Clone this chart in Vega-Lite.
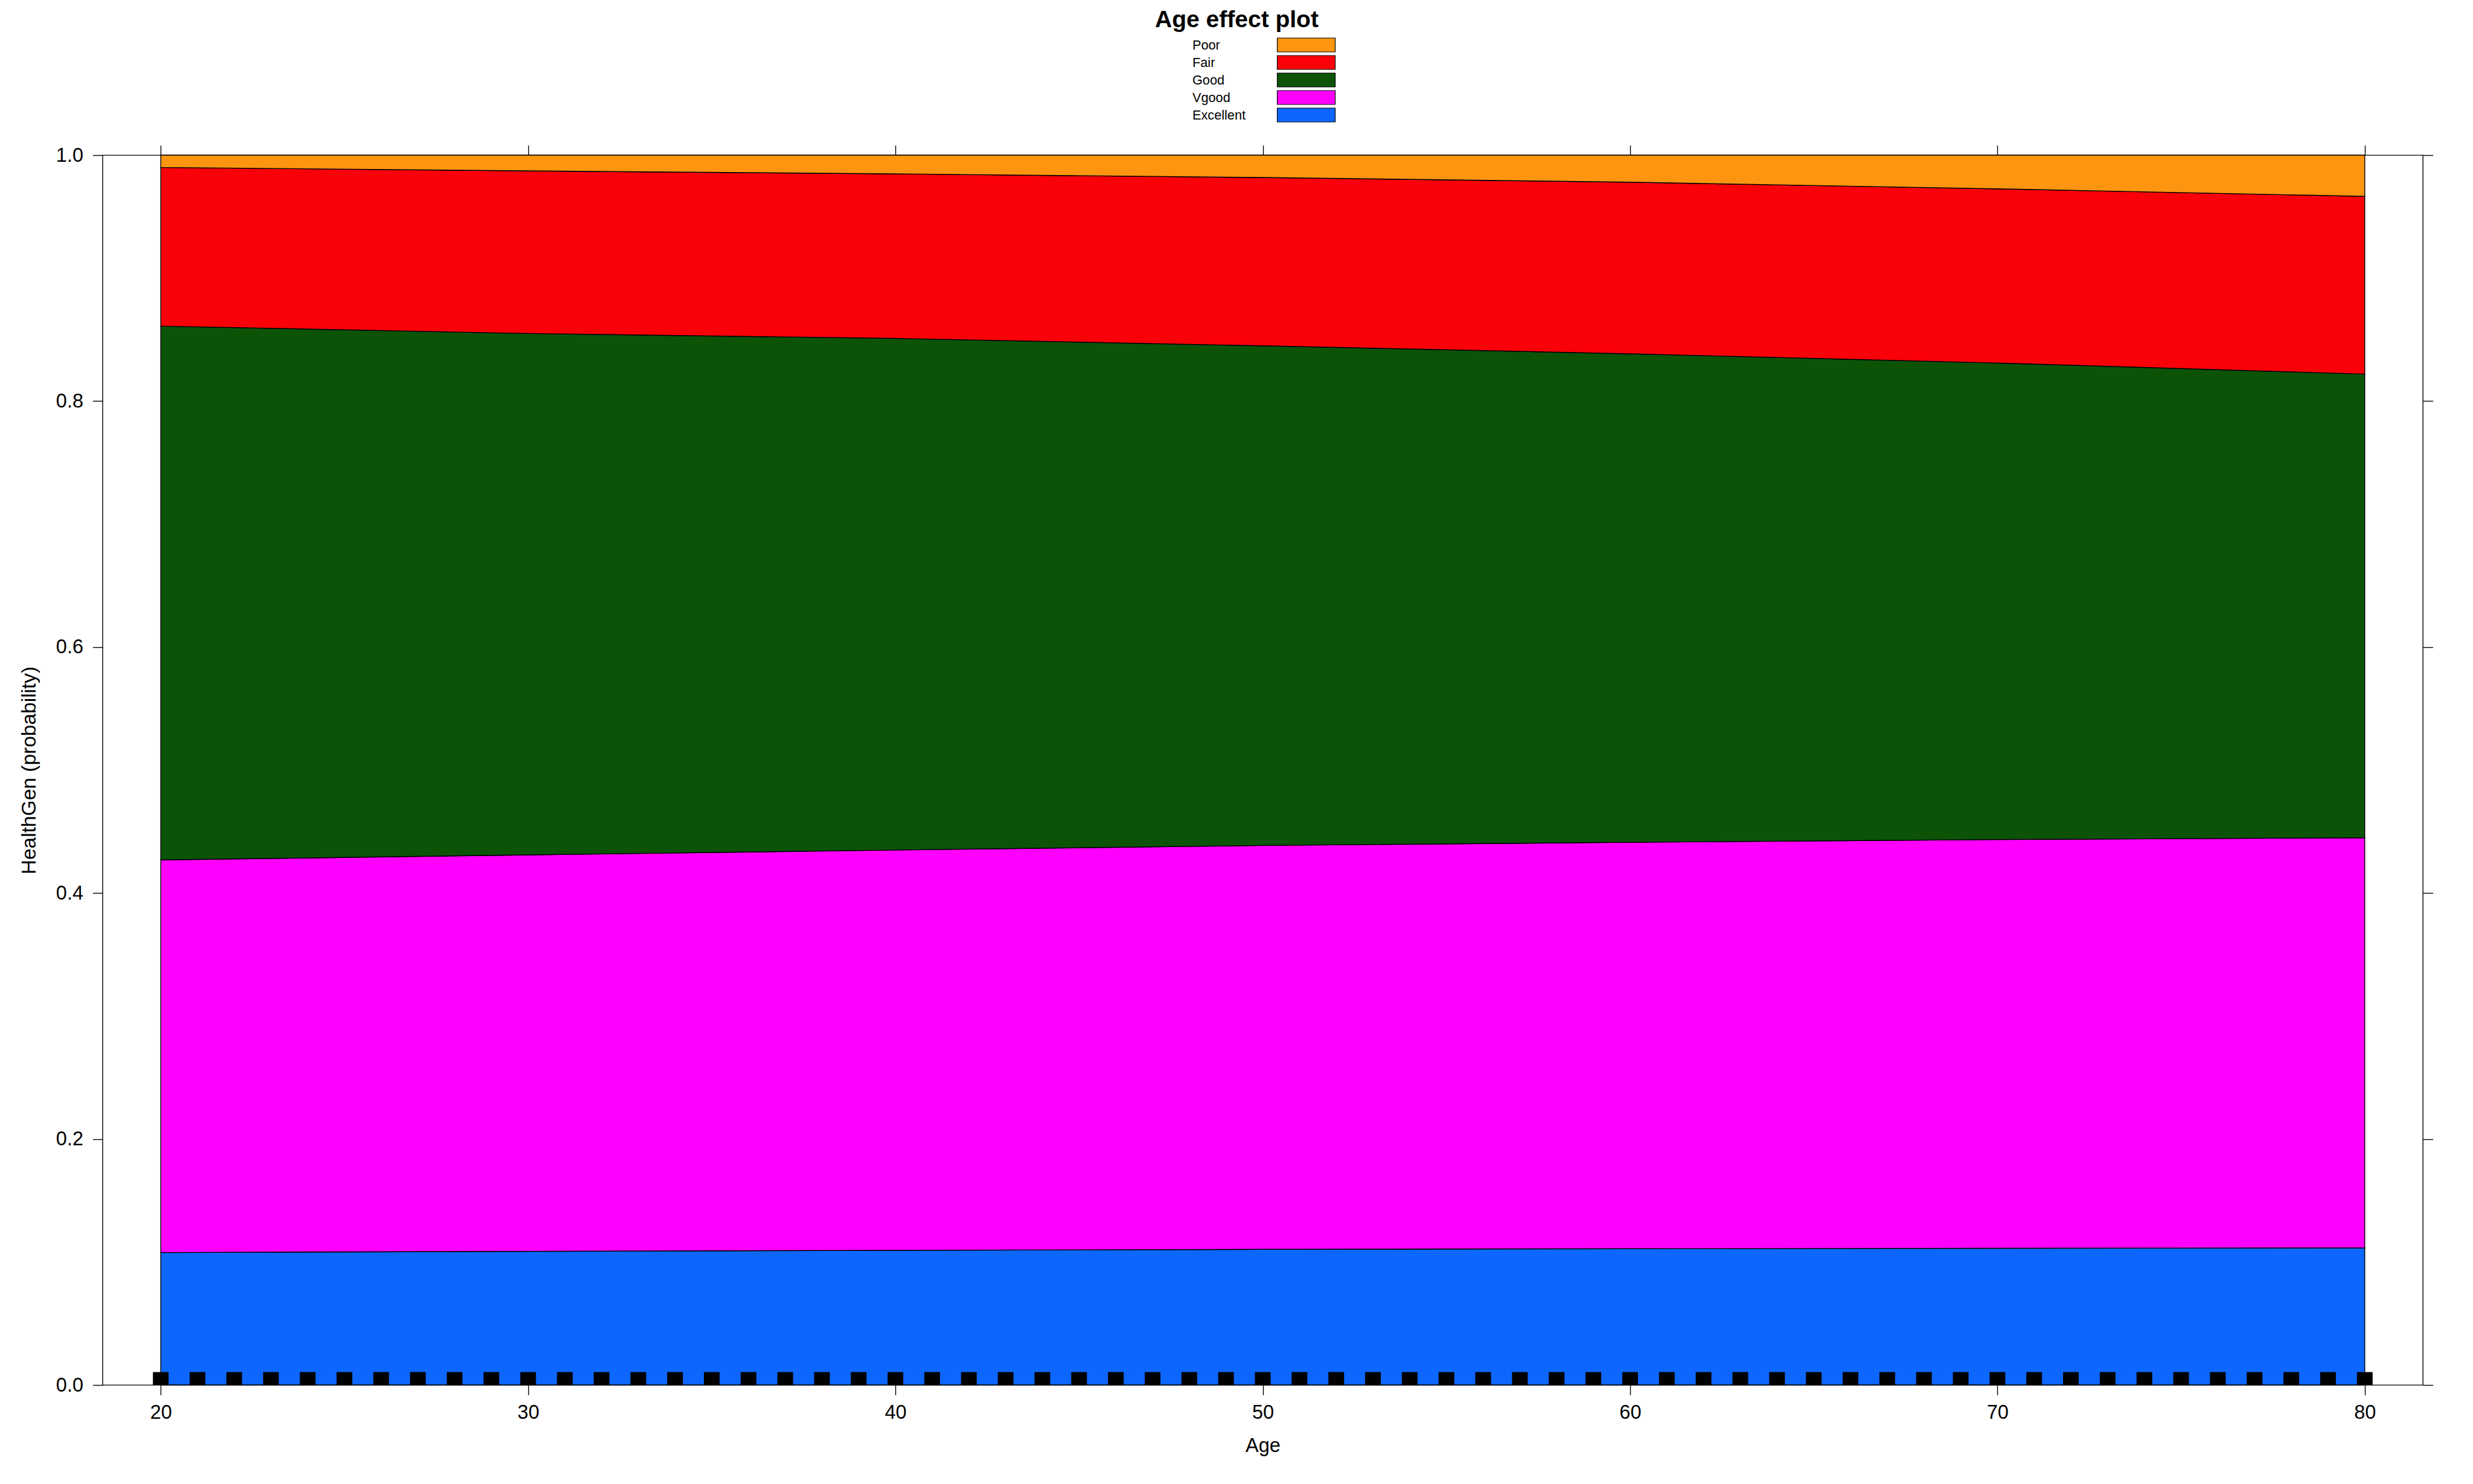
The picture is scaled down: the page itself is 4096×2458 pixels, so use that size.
{
  "$schema": "https://vega.github.io/schema/vega-lite/v6.json",
  "width": 3843,
  "height": 2037,
  "autosize": {"type": "none"},
  "padding": {"left": 170, "top": 257, "right": 83, "bottom": 164},
  "background": "white",
  "title": {
    "text": "Age effect plot",
    "font": "Liberation Sans",
    "fontSize": 39,
    "fontWeight": "bold",
    "color": "black",
    "anchor": "middle",
    "dx": -43,
    "dy": -5
  },
  "config": {
    "font": "Liberation Sans",
    "view": {"stroke": "black", "strokeWidth": 1.4},
    "axis": {
      "domain": false,
      "grid": false,
      "tickColor": "black",
      "tickWidth": 1.4,
      "tickSize": 16.5,
      "labelColor": "black",
      "labelFont": "Liberation Sans",
      "labelFontSize": 32.5,
      "labelOverlap": false,
      "labelFlush": false,
      "titleFont": "Liberation Sans",
      "titleFontSize": 32.5,
      "titleFontWeight": "normal",
      "titleColor": "black"
    },
    "legend": {
      "orient": "none",
      "legendX": 1804,
      "legendY": -195,
      "padding": 0,
      "rowPadding": 0,
      "symbolType": "M-4.174,-1H4.174V1H-4.174Z",
      "symbolSize": 529,
      "symbolOffset": 177,
      "symbolStrokeColor": "black",
      "symbolStrokeWidth": 1.2,
      "labelOffset": -201,
      "labelAlign": "left",
      "labelFont": "Liberation Sans",
      "labelFontSize": 21.7,
      "labelColor": "black",
      "labelLimit": 0
    }
  },
  "datasets": {
    "probs": [
      {"age": 20, "category": "Excellent", "p": 0.1077, "level": 1},
      {"age": 20, "category": "Vgood", "p": 0.3193, "level": 2},
      {"age": 20, "category": "Good", "p": 0.434, "level": 3},
      {"age": 20, "category": "Fair", "p": 0.129, "level": 4},
      {"age": 20, "category": "Poor", "p": 0.010, "level": 5},
      {"age": 30, "category": "Excellent", "p": 0.1087, "level": 1},
      {"age": 30, "category": "Vgood", "p": 0.3223, "level": 2},
      {"age": 30, "category": "Good", "p": 0.424, "level": 3},
      {"age": 30, "category": "Fair", "p": 0.1322, "level": 4},
      {"age": 30, "category": "Poor", "p": 0.0128, "level": 5},
      {"age": 40, "category": "Excellent", "p": 0.1095, "level": 1},
      {"age": 40, "category": "Vgood", "p": 0.3255, "level": 2},
      {"age": 40, "category": "Good", "p": 0.416, "level": 3},
      {"age": 40, "category": "Fair", "p": 0.1338, "level": 4},
      {"age": 40, "category": "Poor", "p": 0.0152, "level": 5},
      {"age": 50, "category": "Excellent", "p": 0.1103, "level": 1},
      {"age": 50, "category": "Vgood", "p": 0.3284, "level": 2},
      {"age": 50, "category": "Good", "p": 0.4063, "level": 3},
      {"age": 50, "category": "Fair", "p": 0.1368, "level": 4},
      {"age": 50, "category": "Poor", "p": 0.0182, "level": 5},
      {"age": 60, "category": "Excellent", "p": 0.1108, "level": 1},
      {"age": 60, "category": "Vgood", "p": 0.3305, "level": 2},
      {"age": 60, "category": "Good", "p": 0.3972, "level": 3},
      {"age": 60, "category": "Fair", "p": 0.1395, "level": 4},
      {"age": 60, "category": "Poor", "p": 0.022, "level": 5},
      {"age": 70, "category": "Excellent", "p": 0.1112, "level": 1},
      {"age": 70, "category": "Vgood", "p": 0.3323, "level": 2},
      {"age": 70, "category": "Good", "p": 0.3875, "level": 3},
      {"age": 70, "category": "Fair", "p": 0.1416, "level": 4},
      {"age": 70, "category": "Poor", "p": 0.0274, "level": 5},
      {"age": 80, "category": "Excellent", "p": 0.1115, "level": 1},
      {"age": 80, "category": "Vgood", "p": 0.3335, "level": 2},
      {"age": 80, "category": "Good", "p": 0.377, "level": 3},
      {"age": 80, "category": "Fair", "p": 0.1445, "level": 4},
      {"age": 80, "category": "Poor", "p": 0.0335, "level": 5}
    ],
    "rug": [
      {"age": 20}, {"age": 21}, {"age": 22}, {"age": 23}, {"age": 24}, {"age": 25}, {"age": 26}, {"age": 27}, {"age": 28}, {"age": 29},
      {"age": 30}, {"age": 31}, {"age": 32}, {"age": 33}, {"age": 34}, {"age": 35}, {"age": 36}, {"age": 37}, {"age": 38}, {"age": 39},
      {"age": 40}, {"age": 41}, {"age": 42}, {"age": 43}, {"age": 44}, {"age": 45}, {"age": 46}, {"age": 47}, {"age": 48}, {"age": 49},
      {"age": 50}, {"age": 51}, {"age": 52}, {"age": 53}, {"age": 54}, {"age": 55}, {"age": 56}, {"age": 57}, {"age": 58}, {"age": 59},
      {"age": 60}, {"age": 61}, {"age": 62}, {"age": 63}, {"age": 64}, {"age": 65}, {"age": 66}, {"age": 67}, {"age": 68}, {"age": 69},
      {"age": 70}, {"age": 71}, {"age": 72}, {"age": 73}, {"age": 74}, {"age": 75}, {"age": 76}, {"age": 77}, {"age": 78}, {"age": 79},
      {"age": 80}
    ]
  },
  "resolve": {"axis": {"x": "independent", "y": "independent"}},
  "layer": [
    {
      "data": {"name": "probs"},
      "mark": {"type": "area", "stroke": "black", "strokeWidth": 1.4, "opacity": 1},
      "encoding": {
        "x": {
          "field": "age",
          "type": "quantitative",
          "scale": {"domain": [18.5, 81.5], "nice": false, "zero": false},
          "axis": {
            "orient": "bottom",
            "values": [20, 30, 40, 50, 60, 70, 80],
            "title": "Age",
            "labelPadding": 13,
            "titlePadding": 22
          }
        },
        "y": {
          "field": "p",
          "type": "quantitative",
          "stack": "zero",
          "scale": {"domain": [0, 1], "nice": false},
          "axis": {
            "orient": "left",
            "values": [0, 0.2, 0.4, 0.6, 0.8, 1],
            "format": ".1f",
            "title": "HealthGen (probability)",
            "titleFontSize": 33.5,
            "labelPadding": 16,
            "titlePadding": 27
          }
        },
        "color": {
          "field": "category",
          "type": "nominal",
          "sort": ["Poor", "Fair", "Good", "Vgood", "Excellent"],
          "scale": {
            "domain": ["Poor", "Fair", "Good", "Vgood", "Excellent"],
            "range": ["#FD9510", "#FA0008", "#0C5308", "#FF00FF", "#0D67FE"]
          },
          "legend": {"title": null}
        },
        "order": {"field": "level", "type": "quantitative", "sort": "ascending"}
      }
    },
    {
      "data": {"name": "rug"},
      "mark": {"type": "bar", "color": "black", "width": 26},
      "encoding": {
        "x": {
          "field": "age",
          "type": "quantitative",
          "axis": {
            "orient": "top",
            "values": [20, 30, 40, 50, 60, 70, 80],
            "labels": false,
            "title": null
          }
        },
        "y": {
          "datum": 0,
          "type": "quantitative",
          "axis": {
            "orient": "right",
            "values": [0, 0.2, 0.4, 0.6, 0.8, 1],
            "labels": false,
            "title": null
          }
        },
        "y2": {"datum": 0.0105}
      }
    }
  ]
}
